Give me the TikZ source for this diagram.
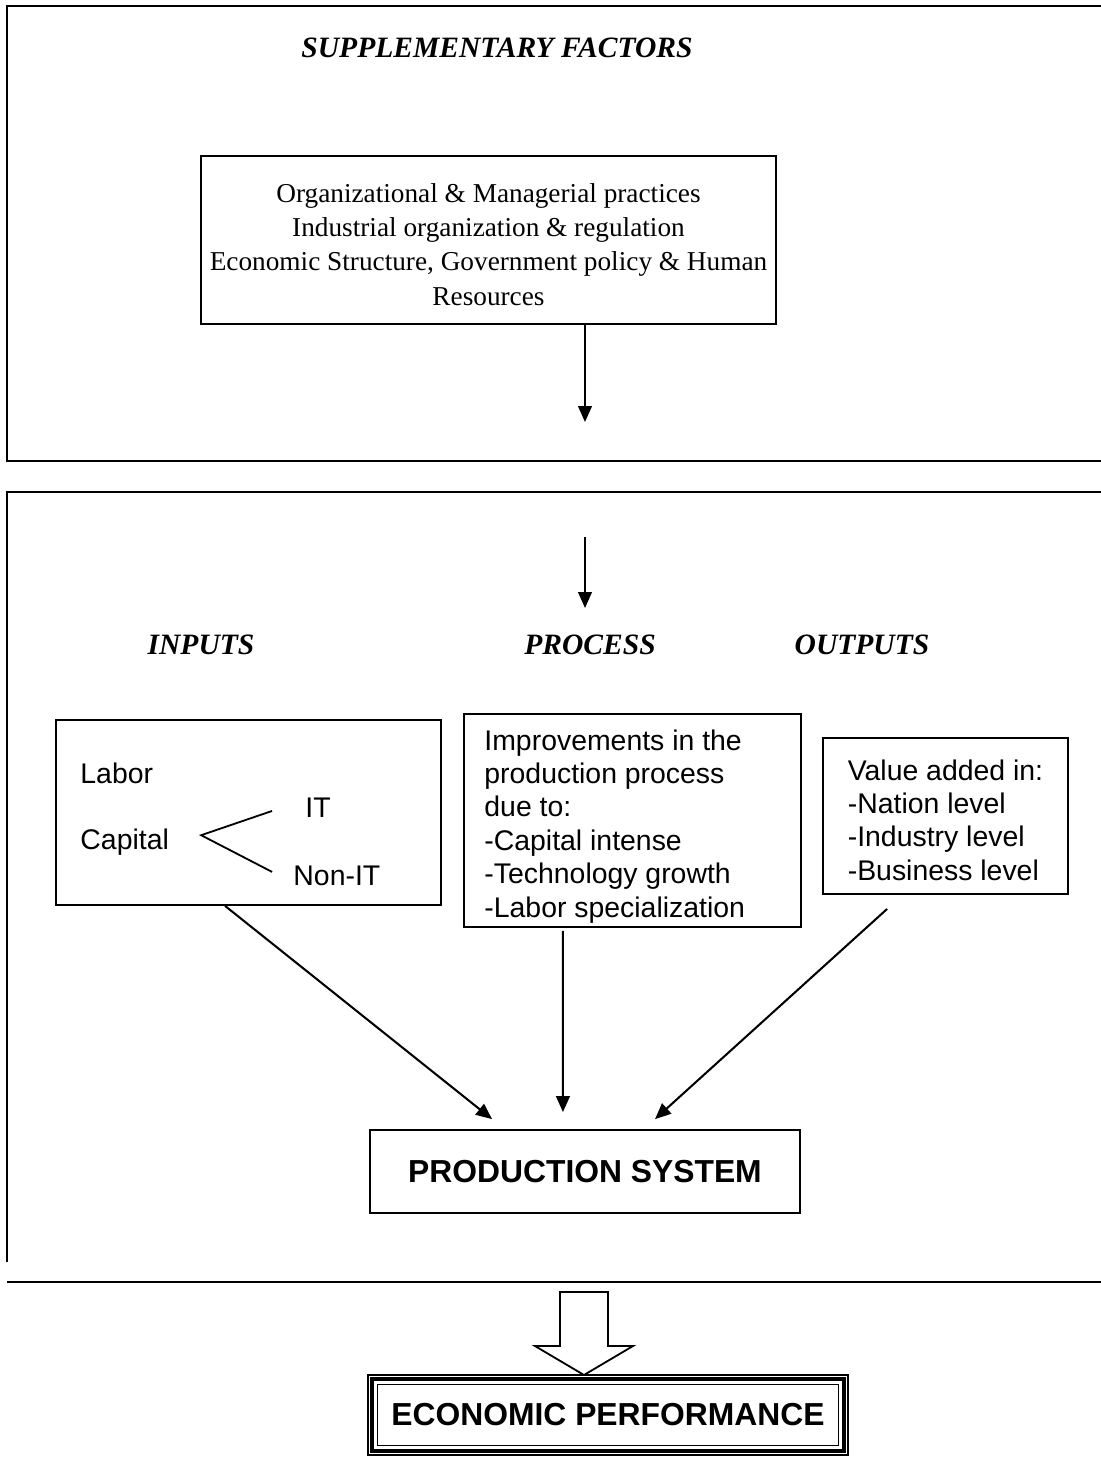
\documentclass[tikz,border=0pt]{standalone}
\usepackage{fontspec}
\setmainfont{Liberation Serif}
\setsansfont{Liberation Sans}
\usetikzlibrary{arrows.meta}
\usetikzlibrary{positioning}
\tikzset{
  frame/.style={line width=0.9pt},
  wordbox/.style={draw,rectangle,line width=0.8pt,inner sep=0pt},
  serif/.style={font=\fontsize{12}{15}\selectfont},
  sans/.style={font=\sffamily\fontsize{12.5}{14.7}\selectfont},
  heading/.style={font=\bfseries\itshape\fontsize{13}{15}\selectfont},
  bighead/.style={font=\sffamily\bfseries\fontsize{14}{16}\selectfont},
  flow/.style={-{Triangle[length=7pt,width=6pt]},line width=0.9pt},
  branch/.style={line width=0.8pt}
}

\begin{document}
\begin{tikzpicture}[x={(0.44pt,0)},y={(0,-0.44pt)}]
\useasboundingbox (0,0) rectangle (1101,1483);

% the three panels
\draw[frame] (1101,6) -- (7,6) -- (7,461) -- (1101,461);
\draw[frame] (1101,492) -- (7,492) -- (7,1262);
\draw[frame] (7,1282) -- (1101,1282);

% supplementary factors
\node[heading] (supp) at (497,48) {SUPPLEMENTARY FACTORS};
\node[wordbox,minimum width=253pt,minimum height=73.9pt] (factors) at (488.5,240) {};
\node[serif,align=center] (factors-text) at ([yshift=-2pt]factors.center)
  {Organizational \& Managerial practices\\
  Industrial organization \& regulation\\
  Economic Structure, Government policy \& Human\\
  Resources};
\coordinate (suppin) at (585,422);
\draw[flow] (factors.south -| suppin) -- (suppin);

% production system panel
\coordinate (midtop) at (585,537);
\coordinate (midin) at (585,608);
\draw[flow] (midtop) -- (midin);

\node[heading] (inputs-h) at (201,645) {INPUTS};
\node[heading] (process-h) at (590,645) {PROCESS};
\node[heading] (outputs-h) at (862,645) {OUTPUTS};

\node[wordbox,minimum width=169.4pt,minimum height=81.4pt] (inputs) at (248.5,812.5) {};
\node[sans,inner sep=0pt,anchor=west] (labor) at (80,773) {Labor};
\node[sans,inner sep=0pt,anchor=west] (capital) at (80,842) {Capital};
\node[sans,inner sep=0pt,anchor=west] (it) at (305,808) {IT};
\node[sans,inner sep=0pt,anchor=west] (nonit) at (293,876) {Non-IT};
\draw[branch] ([xshift=-14.5pt,yshift=-1.3pt]it.west)
  -- ([xshift=14pt,yshift=3pt]capital.east)
  -- ([xshift=-9.2pt,yshift=1.8pt]nonit.west);

\node[wordbox,minimum width=148.3pt,minimum height=93.7pt] (process) at (632.5,820.5) {};
\node[sans,align=left,inner sep=0pt,anchor=west] (process-text)
  at ([xshift=9.2pt,yshift=-2.5pt]process.west) {Improvements in the\\
  production process\\ due to:\\ -Capital intense\\ -Technology growth\\
  -Labor specialization};

\node[wordbox,minimum width=107.8pt,minimum height=68.6pt] (outputs) at (945.5,816) {};
\node[sans,align=left,inner sep=0pt] (outputs-text) at ([yshift=-1.8pt]outputs.center)
  {Value added in:\\ -Nation level\\ -Industry level\\ -Business level};

\node[wordbox,bighead,minimum width=189.2pt,minimum height=36.5pt]
  (prod) at (585,1171.5) {PRODUCTION SYSTEM};

\draw[flow] ([xshift=-10.3pt]inputs.south) -- ([xshift=-40.9pt,yshift=4.4pt]prod.north);
\draw[flow] ([xshift=-30.6pt,yshift=-1.3pt]process.south) -- ([xshift=-9.7pt,yshift=7.5pt]prod.north);
\draw[flow] ([xshift=-25.7pt,yshift=-6.2pt]outputs.south) -- ([xshift=30.8pt,yshift=4.4pt]prod.north);

% economic performance, thin-thick-thin border
\node[draw,line width=0.5pt,bighead,minimum width=211.2pt,minimum height=35.2pt]
  (econ) at (608,1415) {ECONOMIC PERFORMANCE};
\draw[line width=1.8pt] ([shift={(2.1pt,2.1pt)}]econ.south west)
  rectangle ([shift={(-2.1pt,-2.1pt)}]econ.north east);
\draw[line width=0.5pt] ([shift={(4.4pt,4.4pt)}]econ.south west)
  rectangle ([shift={(-4.4pt,-4.4pt)}]econ.north east);
\draw[line width=0.8pt] (560,1292) -- (608,1292) -- (608,1346) -- (633,1346)
  -- (584,1375) -- (535,1346) -- (560,1346) -- cycle;
\end{tikzpicture}
\end{document}
